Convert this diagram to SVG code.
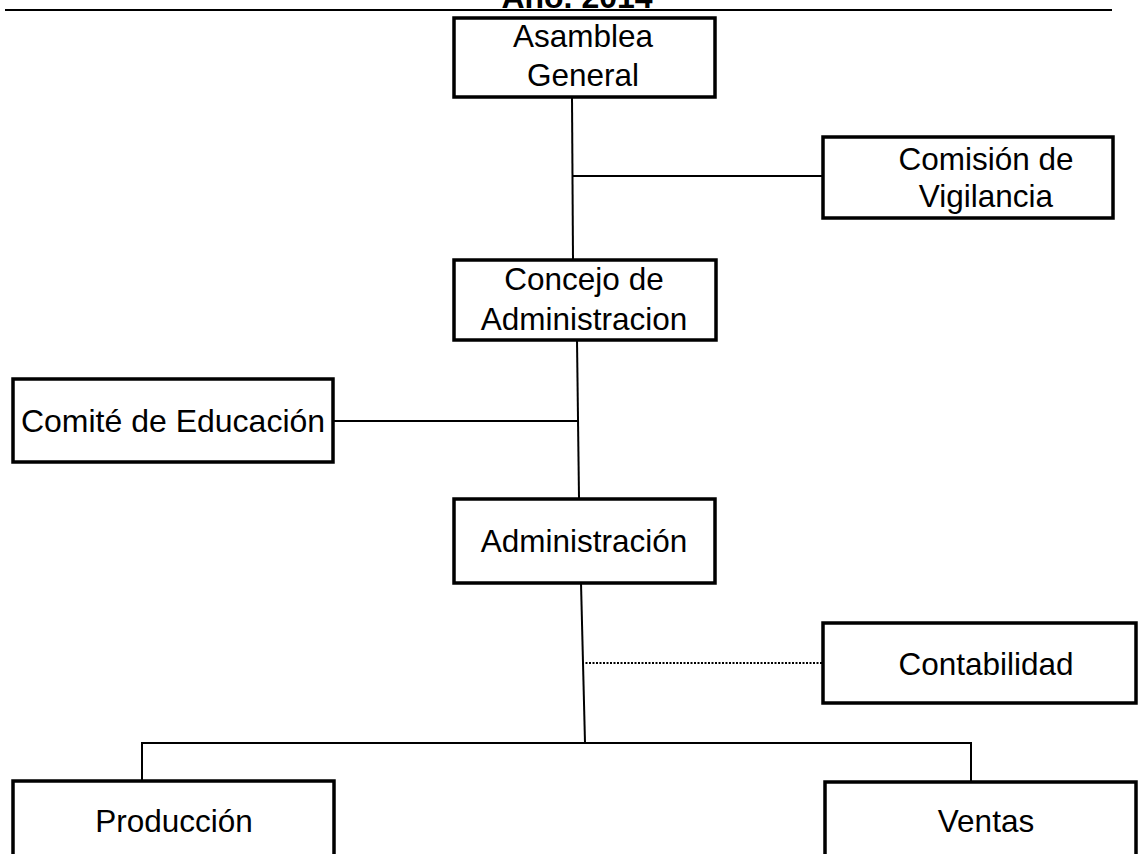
<svg xmlns="http://www.w3.org/2000/svg" width="1139" height="854" viewBox="0 0 1139 854">
<style>
.box{fill:#fff;stroke:#000;stroke-width:3.5}
.t{font-family:"Liberation Sans",Arial,sans-serif;font-size:31.5px;fill:#000;text-anchor:middle}
.c{stroke:#000;stroke-width:2;fill:none}
.d{stroke:#000;stroke-width:2;stroke-dasharray:2 1.5;fill:none}
</style>
<rect width="1139" height="854" fill="#fff"/>
<g id="title">
<text x="577" y="8" style="font-family:'Liberation Sans',Arial,sans-serif;font-size:32px;font-weight:bold;text-anchor:middle">Año. 2014</text>
<line x1="5" y1="10" x2="1112" y2="10" stroke="#000" stroke-width="2"/>
</g>
<g id="connectors">
<line class="c" x1="572" y1="97" x2="573" y2="259"/>
<line class="c" x1="572" y1="176" x2="823" y2="176"/>
<line class="c" x1="577" y1="340" x2="579" y2="498"/>
<line class="c" x1="333" y1="421" x2="578" y2="421"/>
<line class="c" x1="581" y1="583" x2="585" y2="743"/>
<line class="d" x1="582" y1="663" x2="823" y2="663"/>
<polyline class="c" points="142,781 142,743 971,743 971,782"/>
</g>
<g id="asamblea">
<rect class="box" x="454" y="18" width="261" height="79"/>
<text class="t" x="583" y="47">Asamblea</text>
<text class="t" x="583" y="86">General</text>
</g>
<g id="comision">
<rect class="box" x="823" y="137" width="290" height="81"/>
<text class="t" x="986" y="170">Comisión de</text>
<text class="t" x="986" y="207">Vigilancia</text>
</g>
<g id="concejo">
<rect class="box" x="454" y="260" width="262" height="80"/>
<text class="t" x="584" y="290">Concejo de</text>
<text class="t" x="584" y="330">Administracion</text>
</g>
<g id="comite">
<rect class="box" x="13" y="379" width="320" height="83"/>
<text class="t" x="173" y="432" style="font-size:32px">Comité de Educación</text>
</g>
<g id="administracion">
<rect class="box" x="454" y="499" width="261" height="84"/>
<text class="t" x="584" y="552">Administración</text>
</g>
<g id="contabilidad">
<rect class="box" x="823" y="623" width="313" height="80"/>
<text class="t" x="986" y="675">Contabilidad</text>
</g>
<g id="produccion">
<rect class="box" x="13" y="781" width="321" height="90"/>
<text class="t" x="174" y="832">Producción</text>
</g>
<g id="ventas">
<rect class="box" x="825" y="782" width="311" height="90"/>
<text class="t" x="986" y="832">Ventas</text>
</g>
</svg>
